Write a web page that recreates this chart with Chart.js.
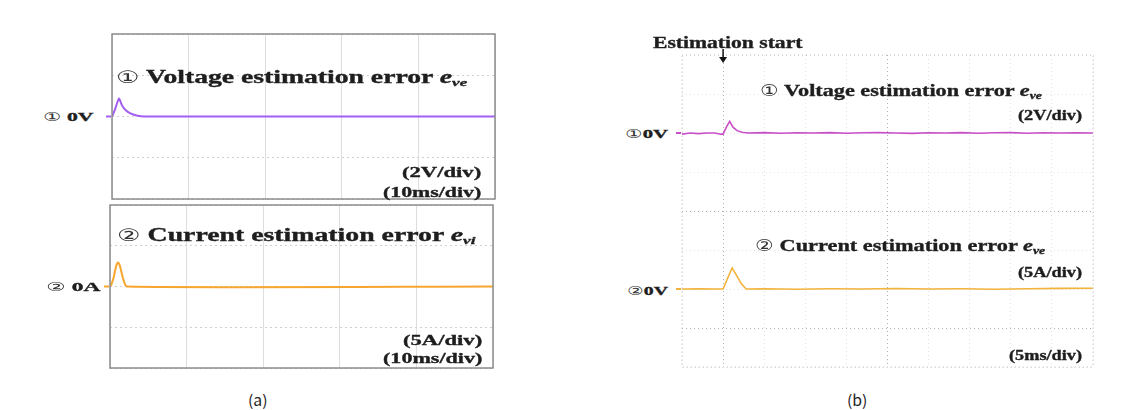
<!DOCTYPE html>
<html>
<head>
<meta charset="utf-8">
<script src="https://cdn.jsdelivr.net/npm/chart.js@4/dist/chart.umd.min.js"></script>
<style>
  body { margin: 0; background: #fff; }
  #wrap { position: relative; width: 1137px; height: 410px; overflow: hidden; }
  canvas { position: absolute; }
  .lbl {
    position: absolute; white-space: nowrap; line-height: 1;
    font-family: "Liberation Serif", "Times New Roman", serif; font-weight: bold;
    color: #1e1e1e; transform-origin: 0 50%;
    -webkit-text-stroke: 0.35px #1e1e1e;
  }
  .lbl i { font-style: italic; }
  .lbl sub { font-size: 0.62em; font-style: italic; vertical-align: -0.25em; line-height: 0; }
  .lbl .c { font-family: "DejaVu Sans", sans-serif; font-weight: normal; font-size: 0.95em; -webkit-text-stroke: 0; color: #333; }
  .lbl.cap { font-family: "Noto Sans CJK KR", sans-serif; font-weight: 400; color: #222; -webkit-text-stroke: 0; }
</style>
</head>
<body>
<div id="wrap"></div>
<script>
"use strict";

// (a) voltage estimation error, ms / V
const voltA_t = [0, 0.4, 0.9, 1.3, 1.8, 2.4, 3.2, 4.2, 50];
const voltA_v = [0, 0.35, 0.87, 0.55, 0.3, 0.15, 0.05, 0, 0];

// (a) current estimation error, ms / A
const curA_t = [0, 0.2, 0.5, 0.8, 1.05, 1.3, 1.7, 2.2, 50];
const curA_i = [0, 0.3, 1.2, 2.5, 2.95, 2.5, 1.0, 0, 0];

// (b) voltage estimation error, ms / V
const voltB_t = [0, 1, 2, 3, 4, 4.7, 5.0, 5.4, 5.8, 6.2, 6.7, 7.3, 8, 10, 12, 14, 16, 18, 20, 22, 24, 26, 28, 30, 32, 34, 36, 38, 40, 42, 44, 46, 48, 50];
const voltB_v = [-0.06, 0, -0.03, 0, 0, -0.06, -0.06, 0.3, 0.6, 0.3, 0.12, 0.04, 0, 0.02, -0.01, 0.01, 0, 0.02, -0.01, 0.01, 0.02, 0, -0.02, 0.01, 0, 0.02, -0.01, 0.01, 0.02, -0.01, 0.01, 0, 0.01, 0];

// (b) current estimation error, ms / A
const curB_t = [0, 2, 4, 5.0, 5.6, 6.1, 6.6, 7.2, 7.8, 10, 14, 18, 22, 26, 30, 34, 38, 42, 46, 50];
const curB_i = [0, 0.03, 0, 0, 1.5, 2.7, 1.8, 0.7, 0, 0.03, -0.03, 0.03, 0, 0.06, 0, 0.03, -0.03, 0.03, 0.08, 0.1];

// estimation start time in (b), ms
const startB = 5;

const wrap = document.getElementById("wrap");
const m = 8;

function toPoints(xs, ys) {
  return xs.map((x, i) => ({ x: x, y: ys[i] }));
}

function addCanvas(box) {
  const c = document.createElement("canvas");
  c.width = box.w + 2 * m;
  c.height = box.h + 2 * m;
  c.style.left = (box.x - m) + "px";
  c.style.top = (box.y - m) + "px";
  wrap.appendChild(c);
  return c;
}

// frame round the plot area + small channel markers at the left
const framePlugin = {
  id: "frame",
  afterDatasetsDraw(chart, args, opts) {
    const ctx = chart.ctx;
    const a = chart.chartArea;
    ctx.save();
    ctx.strokeStyle = opts.color;
    ctx.lineWidth = opts.width;
    ctx.setLineDash(opts.dash || []);
    ctx.strokeRect(a.left, a.top, a.right - a.left, a.bottom - a.top);
    ctx.setLineDash([]);
    chart.data.datasets.forEach((ds) => {
      const y = chart.scales[ds.yAxisID || "y"].getPixelForValue(0);
      ctx.strokeStyle = ds.borderColor;
      ctx.lineWidth = 2;
      ctx.beginPath();
      ctx.moveTo(a.left - 6, y);
      ctx.lineTo(a.left - 1, y);
      ctx.stroke();
    });
    ctx.restore();
  },
};

// arrow for "Estimation start"
const arrowPlugin = {
  id: "startArrow",
  afterDraw(chart, args, opts) {
    if (!opts.show) return;
    const ctx = chart.ctx;
    const x = chart.scales.x.getPixelForValue(startB);
    const top = chart.chartArea.top;
    ctx.save();
    ctx.strokeStyle = "#111";
    ctx.fillStyle = "#111";
    ctx.lineWidth = 1.5;
    ctx.beginPath();
    ctx.moveTo(x, top - 6);
    ctx.lineTo(x, top + 4);
    ctx.stroke();
    ctx.beginPath();
    ctx.moveTo(x - 4, top + 2);
    ctx.lineTo(x + 4, top + 2);
    ctx.lineTo(x, top + 8);
    ctx.closePath();
    ctx.fill();
    ctx.restore();
  },
};

Chart.register(framePlugin, arrowPlugin);

function baseOptions(scales, frame, arrow, tension) {
  return {
    responsive: false,
    animation: false,
    layout: { padding: m },
    plugins: {
      legend: { display: false },
      tooltip: { enabled: false },
      frame: frame,
      startArrow: { show: arrow },
    },
    elements: { point: { radius: 0 }, line: { tension: tension } },
    scales: scales,
  };
}

// ---- panel (a), top
const boxA1 = { x: 112, y: 34, w: 383, h: 165 };
new Chart(addCanvas(boxA1), {
  type: "line",
  data: {
    datasets: [{
      data: toPoints(voltA_t, voltA_v),
      borderColor: "#a35ef2",
      borderWidth: 2,
    }],
  },
  options: baseOptions({
    x: { type: "linear", min: 0, max: 50, ticks: { display: false, stepSize: 10 },
      grid: { color: "#dedede", drawTicks: false }, border: { display: false } },
    y: { min: -4, max: 4, ticks: { display: false, stepSize: 2 },
      grid: { color: "#cfcfcf", drawTicks: false }, border: { display: false, dash: [2, 3] } },
  }, { color: "#8c8c8c", width: 1.5 }, false, 0.2),
});

// ---- panel (a), bottom
const boxA2 = { x: 110, y: 205, w: 383, h: 163 };
new Chart(addCanvas(boxA2), {
  type: "line",
  data: {
    datasets: [{
      data: toPoints(curA_t, curA_i),
      borderColor: "#f6a62e",
      borderWidth: 2,
    }],
  },
  options: baseOptions({
    x: { type: "linear", min: 0, max: 50, ticks: { display: false, stepSize: 10 },
      grid: { color: "#dedede", drawTicks: false }, border: { display: false } },
    y: { min: -10, max: 10, ticks: { display: false, stepSize: 5 },
      grid: { color: "#cfcfcf", drawTicks: false }, border: { display: false, dash: [2, 3] } },
  }, { color: "#8c8c8c", width: 1.5 }, false, 0.2),
});

// ---- panel (b)
const boxB = { x: 682, y: 55, w: 411, h: 312 };
new Chart(addCanvas(boxB), {
  type: "line",
  data: {
    datasets: [
      {
        data: toPoints(voltB_t, voltB_v),
        borderColor: "#c84fc8",
        borderWidth: 1.6,
        yAxisID: "yV",
      },
      {
        data: toPoints(curB_t, curB_i),
        borderColor: "#f3b23a",
        borderWidth: 1.6,
        yAxisID: "yI",
      },
    ],
  },
  options: baseOptions({
    x: { type: "linear", min: 0, max: 50, ticks: { display: false, stepSize: 5 },
      grid: {
        drawTicks: false,
        color: (c) => (c.tick && (c.tick.value === 5 || c.tick.value === 25) ? "#b0b0b0" : "#e4e4e4"),
      },
      border: { display: false, dash: [1, 3] } },
    yV: { position: "left", min: -12, max: 4, ticks: { display: false, stepSize: 2 },
      grid: {
        drawTicks: false,
        color: (c) => (c.tick && (c.tick.value === -4 || c.tick.value === -10) ? "#b0b0b0" : "#e4e4e4"),
      },
      border: { display: false, dash: [1, 3] } },
    yI: { display: false, min: -10, max: 30 },
  }, { color: "#c4c4c4", width: 1, dash: [1, 3] }, true, 0),
});

// ---- texts
function addLabel(html, left, right, cy, size, cls) {
  const d = document.createElement("div");
  d.className = "lbl" + (cls ? " " + cls : "");
  d.innerHTML = html;
  d.style.fontSize = size + "px";
  d.style.left = left + "px";
  d.style.top = (cy - size / 2) + "px";
  wrap.appendChild(d);
  const w = d.offsetWidth;
  if (w > 0) d.style.transform = "scaleX(" + ((right - left) / w).toFixed(3) + ")";
}

addLabel('<span class="c">①</span> 0V', 43, 93, 116, 13);
addLabel('<span class="c">①</span> Voltage estimation error <i>e</i><sub>ve</sub>', 116, 468, 77, 18);
addLabel("(2V/div)", 402, 482, 172, 15);
addLabel("(10ms/div)", 383, 482, 192, 15);

addLabel('<span class="c">②</span> 0A', 46, 100, 286, 13);
addLabel('<span class="c">②</span> Current estimation error <i>e</i><sub>vi</sub>', 117, 475, 235, 18);
addLabel("(5A/div)", 403, 483, 340, 15);
addLabel("(10ms/div)", 383, 483, 358, 15);

addLabel("Estimation start", 653, 803, 42, 17);
addLabel('<span class="c">①</span> Voltage estimation error <i>e</i><sub>ve</sub>', 760, 1042, 90, 17);
addLabel("(2V/div)", 1018, 1082, 116, 14);
addLabel('<span class="c">①</span>0V', 625, 668, 133, 13);
addLabel('<span class="c">②</span> Current estimation error <i>e</i><sub>ve</sub>', 755, 1045, 245, 17);
addLabel("(5A/div)", 1018, 1082, 273, 14);
addLabel('<span class="c">②</span>0V', 627, 668, 290, 13);
addLabel("(5ms/div)", 1009, 1082, 356, 14);

addLabel("(a)", 248, 268, 399, 15, "cap");
addLabel("(b)", 847, 867, 399, 15, "cap");
</script>
</body>
</html>
